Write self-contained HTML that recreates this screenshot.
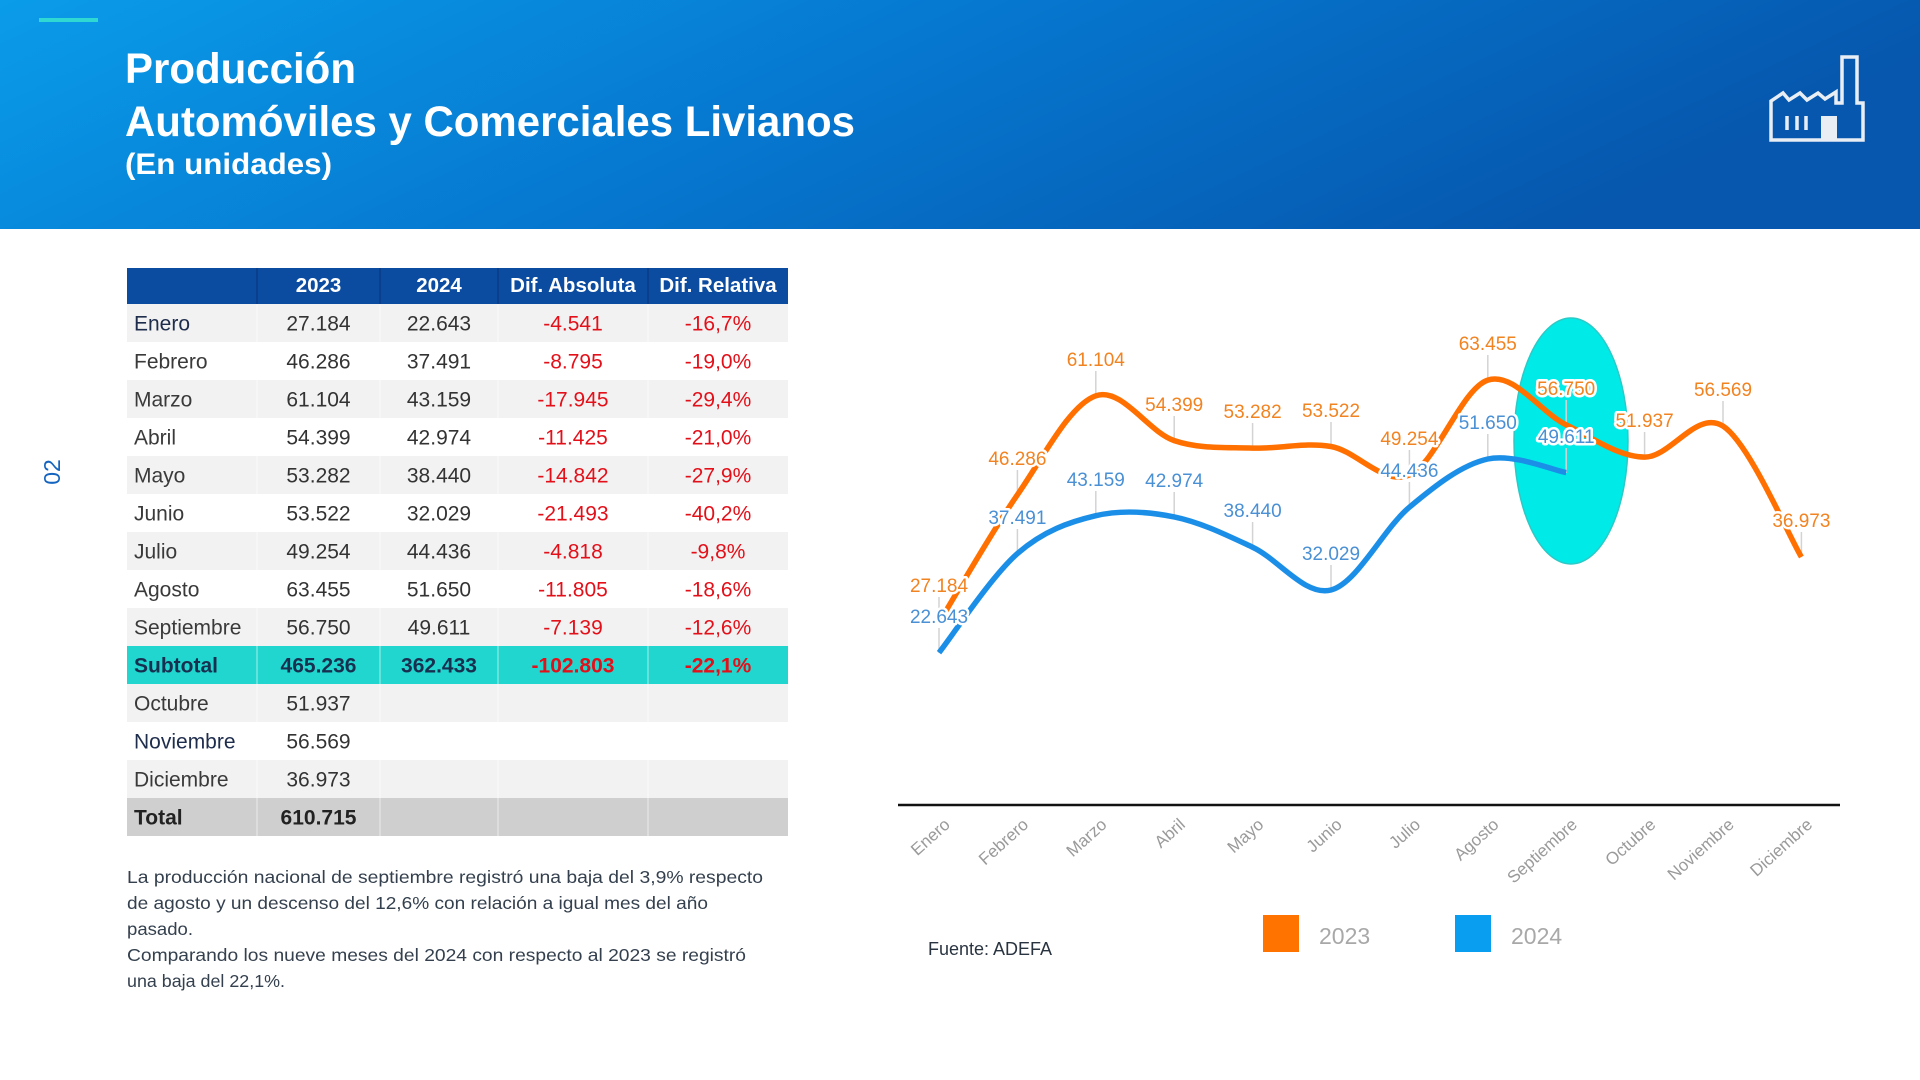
<!DOCTYPE html>
<html><head><meta charset="utf-8"><style>
html,body{margin:0;padding:0;background:#fff;}
svg{display:block;}
text{font-family:"Liberation Sans",Arial,sans-serif;}
</style></head><body>
<svg width="1920" height="1080" viewBox="0 0 1920 1080" xmlns="http://www.w3.org/2000/svg">
<defs>
<linearGradient id="hdr" x1="0" y1="0" x2="1" y2="0.25">
<stop offset="0" stop-color="#0a9ce9"/>
<stop offset="0.5" stop-color="#0677cf"/>
<stop offset="1" stop-color="#0657ad"/>
</linearGradient>
</defs>
<rect x="0" y="0" width="1920" height="1080" fill="#fff"/>
<!-- header -->
<rect x="0" y="0" width="1920" height="229" fill="url(#hdr)"/>
<rect x="39" y="18" width="59" height="4" fill="#2fd8d2"/>
<text x="125" y="83" font-size="43" font-weight="bold" fill="#fff" textLength="231" lengthAdjust="spacingAndGlyphs">Producción</text>
<text x="125" y="136" font-size="43" font-weight="bold" fill="#fff" textLength="730" lengthAdjust="spacingAndGlyphs">Automóviles y Comerciales Livianos</text>
<text x="125" y="174" font-size="30" font-weight="bold" fill="#fff" textLength="207" lengthAdjust="spacingAndGlyphs">(En unidades)</text>
<!-- factory icon -->
<g stroke="#e9eef5" stroke-width="3.5" fill="none" stroke-linejoin="miter">
<path d="M1771,140 L1771,101 L1783,93 L1789,100 L1800,93 L1807,100 L1818,93 L1825,99 L1836,92 L1836,103 L1842,103 L1842,57 L1857,57 L1857,103 L1863,103 L1863,140 Z"/>
<line x1="1787" y1="116" x2="1787" y2="130"/>
<line x1="1797" y1="116" x2="1797" y2="130"/>
<line x1="1806" y1="116" x2="1806" y2="130"/>
</g>
<rect x="1821" y="116" width="16" height="24" fill="#e9eef5"/>
<!-- page number -->
<text transform="translate(60,472) rotate(-90)" text-anchor="middle" font-size="23" fill="#1565c0">02</text>

<!-- table -->
<rect x="127" y="268" width="661" height="36" fill="#0b4ba0"/>
<g stroke="#0a3c84" stroke-width="1.5">
<line x1="257" y1="268" x2="257" y2="304"/><line x1="380" y1="268" x2="380" y2="304"/>
<line x1="498" y1="268" x2="498" y2="304"/><line x1="648" y1="268" x2="648" y2="304"/>
</g>
<g font-size="20.5" font-weight="bold" fill="#fff" text-anchor="middle">
<text x="318.5" y="292">2023</text><text x="439" y="292">2024</text>
<text x="573" y="292">Dif. Absoluta</text><text x="718" y="292">Dif. Relativa</text>
</g>
<g>
<rect x="127" y="304" width="661" height="38" fill="#f2f2f2"/>
<rect x="127" y="380" width="661" height="38" fill="#f2f2f2"/>
<rect x="127" y="456" width="661" height="38" fill="#f2f2f2"/>
<rect x="127" y="532" width="661" height="38" fill="#f2f2f2"/>
<rect x="127" y="608" width="661" height="38" fill="#f2f2f2"/>
<rect x="127" y="646" width="661" height="38" fill="#21d6cf"/>
<rect x="127" y="684" width="661" height="38" fill="#f2f2f2"/>
<rect x="127" y="760" width="661" height="38" fill="#f2f2f2"/>
<rect x="127" y="798" width="661" height="38" fill="#cfcfcf"/>
</g>
<g stroke="#ffffff" stroke-width="1" opacity="0.6">
<line x1="257" y1="304" x2="257" y2="836"/><line x1="380" y1="304" x2="380" y2="836"/>
<line x1="498" y1="304" x2="498" y2="836"/><line x1="648" y1="304" x2="648" y2="836"/>
</g>
<g font-size="21" fill="#3a3a3a">
<text x="134" y="330.5" fill="#1f2d4d">Enero</text>
<text x="134" y="368.5">Febrero</text>
<text x="134" y="406.5">Marzo</text>
<text x="134" y="444.5">Abril</text>
<text x="134" y="482.5">Mayo</text>
<text x="134" y="520.5">Junio</text>
<text x="134" y="558.5">Julio</text>
<text x="134" y="596.5">Agosto</text>
<text x="134" y="634.5">Septiembre</text>
<text x="134" y="672.5" font-weight="bold" fill="#183050">Subtotal</text>
<text x="134" y="710.5">Octubre</text>
<text x="134" y="748.5" fill="#1f2d4d">Noviembre</text>
<text x="134" y="786.5">Diciembre</text>
<text x="134" y="824.5" font-weight="bold" fill="#222">Total</text>
</g>
<g font-size="21" fill="#333" text-anchor="middle">
<text x="318.5" y="330.5">27.184</text><text x="439" y="330.5">22.643</text>
<text x="318.5" y="368.5">46.286</text><text x="439" y="368.5">37.491</text>
<text x="318.5" y="406.5">61.104</text><text x="439" y="406.5">43.159</text>
<text x="318.5" y="444.5">54.399</text><text x="439" y="444.5">42.974</text>
<text x="318.5" y="482.5">53.282</text><text x="439" y="482.5">38.440</text>
<text x="318.5" y="520.5">53.522</text><text x="439" y="520.5">32.029</text>
<text x="318.5" y="558.5">49.254</text><text x="439" y="558.5">44.436</text>
<text x="318.5" y="596.5">63.455</text><text x="439" y="596.5">51.650</text>
<text x="318.5" y="634.5">56.750</text><text x="439" y="634.5">49.611</text>
<text x="318.5" y="672.5" font-weight="bold" fill="#183050">465.236</text><text x="439" y="672.5" font-weight="bold" fill="#183050">362.433</text>
<text x="318.5" y="710.5">51.937</text>
<text x="318.5" y="748.5">56.569</text>
<text x="318.5" y="786.5">36.973</text>
<text x="318.5" y="824.5" font-weight="bold" fill="#222">610.715</text>
</g>
<g font-size="21" fill="#e3101a" text-anchor="middle">
<text x="573" y="330.5">-4.541</text><text x="718" y="330.5">-16,7%</text>
<text x="573" y="368.5">-8.795</text><text x="718" y="368.5">-19,0%</text>
<text x="573" y="406.5">-17.945</text><text x="718" y="406.5">-29,4%</text>
<text x="573" y="444.5">-11.425</text><text x="718" y="444.5">-21,0%</text>
<text x="573" y="482.5">-14.842</text><text x="718" y="482.5">-27,9%</text>
<text x="573" y="520.5">-21.493</text><text x="718" y="520.5">-40,2%</text>
<text x="573" y="558.5">-4.818</text><text x="718" y="558.5">-9,8%</text>
<text x="573" y="596.5">-11.805</text><text x="718" y="596.5">-18,6%</text>
<text x="573" y="634.5">-7.139</text><text x="718" y="634.5">-12,6%</text>
<text x="573" y="672.5" font-weight="bold">-102.803</text><text x="718" y="672.5" font-weight="bold">-22,1%</text>
</g>
<!-- paragraph -->
<g font-size="17.5" fill="#34404e">
<text x="127" y="883" textLength="636" lengthAdjust="spacingAndGlyphs">La producción nacional de septiembre registró una baja del 3,9% respecto</text>
<text x="127" y="909" textLength="581" lengthAdjust="spacingAndGlyphs">de agosto y un descenso del 12,6% con relación a igual mes del año</text>
<text x="127" y="935" textLength="66" lengthAdjust="spacingAndGlyphs">pasado.</text>
<text x="127" y="961" textLength="619" lengthAdjust="spacingAndGlyphs">Comparando los nueve meses del 2024 con respecto al 2023 se registró</text>
<text x="127" y="987" textLength="158" lengthAdjust="spacingAndGlyphs">una baja del 22,1%.</text>
</g>

<!-- chart -->
<ellipse cx="1571" cy="441" rx="57" ry="123" fill="#00ebe7" stroke="#2cc9c6" stroke-width="1.5"/>
<g stroke="#d3d3d3" stroke-width="1.5">
<line x1="939" y1="597" x2="939" y2="622"/><line x1="939" y1="628" x2="939" y2="653"/>
<line x1="1017.4" y1="470" x2="1017.4" y2="495"/><line x1="1017.4" y1="529" x2="1017.4" y2="554"/>
<line x1="1095.8" y1="371" x2="1095.8" y2="396"/><line x1="1095.8" y1="491" x2="1095.8" y2="516"/>
<line x1="1174.2" y1="416" x2="1174.2" y2="441"/><line x1="1174.2" y1="492" x2="1174.2" y2="517"/>
<line x1="1252.6" y1="423" x2="1252.6" y2="448"/><line x1="1252.6" y1="522" x2="1252.6" y2="547"/>
<line x1="1331" y1="422" x2="1331" y2="446"/><line x1="1331" y1="565" x2="1331" y2="590"/>
<line x1="1409.4" y1="450" x2="1409.4" y2="475"/><line x1="1409.4" y1="482" x2="1409.4" y2="507"/>
<line x1="1487.8" y1="355" x2="1487.8" y2="380"/><line x1="1487.8" y1="434" x2="1487.8" y2="459"/>
<line x1="1566.2" y1="400" x2="1566.2" y2="425"/><line x1="1566.2" y1="448" x2="1566.2" y2="473"/>
<line x1="1644.6" y1="432" x2="1644.6" y2="457"/>
<line x1="1723" y1="401" x2="1723" y2="426"/>
<line x1="1801.4" y1="532" x2="1801.4" y2="557"/>
</g>
<path d="M939,622.4 C952.07,601.13 991.27,532.57 1017.4,494.8 C1043.53,457.03 1069.67,404.83 1095.8,395.8 C1121.93,386.77 1148.07,431.88 1174.2,440.6 C1200.33,449.32 1226.47,447.12 1252.6,448.1 C1278.73,449.08 1304.87,442.02 1331,446.5 C1357.13,450.98 1383.27,486.07 1409.4,475.0 C1435.53,463.93 1461.67,388.45 1487.8,380.1 C1513.93,371.75 1540.07,412.07 1566.2,424.9 C1592.33,437.73 1618.47,456.9 1644.6,457.1 C1670.73,457.3 1696.87,409.45 1723,426.1 C1749.13,442.75 1788.33,535.18 1801.4,557.0" fill="none" stroke="#ff7000" stroke-width="5.5" stroke-linecap="butt"/>
<path d="M939,652.7 C952.07,636.18 991.27,576.43 1017.4,553.6 C1043.53,530.77 1069.67,521.82 1095.8,515.7 C1121.93,509.58 1148.07,511.65 1174.2,516.9 C1200.33,522.15 1226.47,535.02 1252.6,547.2 C1278.73,559.38 1304.87,596.67 1331,590.0 C1357.13,583.33 1383.27,529.03 1409.4,507.2 C1435.53,485.37 1461.67,464.77 1487.8,459.0 C1513.93,453.23 1553.13,470.33 1566.2,472.6" fill="none" stroke="#1b8fe8" stroke-width="5.5" stroke-linecap="butt"/>
<g font-size="19" text-anchor="middle" stroke="#fff" stroke-width="5" stroke-linejoin="round" paint-order="stroke">
<g fill="#f28321">
<text x="939" y="592">27.184</text>
<text x="1017.4" y="465">46.286</text>
<text x="1095.8" y="366">61.104</text>
<text x="1174.2" y="411">54.399</text>
<text x="1252.6" y="418">53.282</text>
<text x="1331" y="417">53.522</text>
<text x="1409.4" y="445">49.254</text>
<text x="1487.8" y="350">63.455</text>
<text x="1566.2" y="395">56.750</text>
<text x="1644.6" y="427">51.937</text>
<text x="1723" y="396">56.569</text>
<text x="1801.4" y="527">36.973</text>
</g>
<g fill="#4a90d4">
<text x="939" y="623">22.643</text>
<text x="1017.4" y="524">37.491</text>
<text x="1095.8" y="486">43.159</text>
<text x="1174.2" y="487">42.974</text>
<text x="1252.6" y="517">38.440</text>
<text x="1331" y="560">32.029</text>
<text x="1409.4" y="477">44.436</text>
<text x="1487.8" y="429">51.650</text>
<text x="1566.2" y="443">49.611</text>
</g>
</g>
<line x1="898" y1="805" x2="1840" y2="805" stroke="#111" stroke-width="2.5"/>
<g font-size="17" fill="#9a9a9a" text-anchor="end">
<text transform="translate(951,826) rotate(-42)">Enero</text>
<text transform="translate(1029.4,826) rotate(-42)">Febrero</text>
<text transform="translate(1107.8,826) rotate(-42)">Marzo</text>
<text transform="translate(1186.2,826) rotate(-42)">Abril</text>
<text transform="translate(1264.6,826) rotate(-42)">Mayo</text>
<text transform="translate(1343,826) rotate(-42)">Junio</text>
<text transform="translate(1421.4,826) rotate(-42)">Julio</text>
<text transform="translate(1499.8,826) rotate(-42)">Agosto</text>
<text transform="translate(1578.2,826) rotate(-42)">Septiembre</text>
<text transform="translate(1656.6,826) rotate(-42)">Octubre</text>
<text transform="translate(1735,826) rotate(-42)">Noviembre</text>
<text transform="translate(1813.4,826) rotate(-42)">Diciembre</text>
</g>
<text x="928" y="955" font-size="18" fill="#2a3440">Fuente: ADEFA</text>
<rect x="1263" y="915" width="36" height="37" fill="#ff7300"/>
<text x="1319" y="944" font-size="23" fill="#a8a8a8">2023</text>
<rect x="1455" y="915" width="36" height="37" fill="#0a9ef0"/>
<text x="1511" y="944" font-size="23" fill="#a8a8a8">2024</text>
</svg>
</body></html>
